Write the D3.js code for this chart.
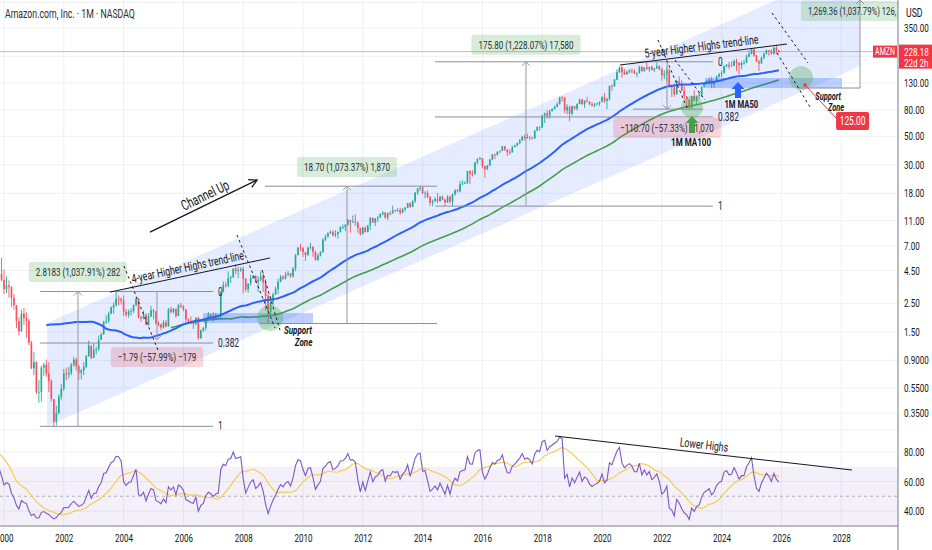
<!DOCTYPE html>
<html>
<head>
<meta charset="utf-8">
<script src="https://cdn.jsdelivr.net/npm/d3@7"></script>
<style>
  body { margin: 0; background: #fff; }
  text { font-family: Roboto, "Noto Sans", sans-serif; }
</style>
</head>
<body>
<svg id="chart" width="932" height="550"></svg>
<script>
// monthly AMZN candles from May 1997 (split adjusted), open = previous close
const startYear = 1997, startMonth = 4;

const closes = [
  0.086, 0.101, 0.125, 0.113, 0.179, 0.167, 0.238, 0.251,                        // 1997 May-Dec
  0.25, 0.33, 0.35, 0.40, 0.40, 0.83, 0.98, 0.78, 0.86, 0.83, 1.57, 2.68,          // 1998
  2.95, 3.10, 4.33, 4.62, 3.10, 3.13, 2.62, 3.05, 3.90, 3.53, 4.25, 3.81,          // 1999
  3.23, 3.44, 3.35, 2.76, 2.42, 1.82, 1.51, 2.08, 1.92, 1.83, 1.23, 0.78,          // 2000
  0.87, 0.51, 0.51, 0.79, 0.83, 0.71, 0.62, 0.45, 0.30, 0.35, 0.47, 0.54,          // 2001
  0.71, 0.70, 0.72, 0.83, 0.91, 0.81, 0.72, 0.75, 0.80, 0.97, 1.17, 0.94,          // 2002
  1.09, 1.10, 1.30, 1.43, 1.79, 1.82, 2.08, 2.32, 2.42, 2.72, 2.71, 2.63,          // 2003
  2.15, 2.04, 2.16, 2.18, 2.43, 2.72, 1.95, 1.91, 2.04, 1.71, 1.98, 2.21,          // 2004
  2.16, 1.75, 1.71, 1.62, 1.78, 1.65, 2.25, 2.14, 2.27, 1.99, 2.42, 2.36,          // 2005
  2.24, 1.87, 1.83, 1.76, 1.73, 1.93, 1.34, 1.54, 1.61, 1.90, 2.02, 1.97,          // 2006
  1.88, 1.96, 1.99, 3.07, 3.46, 3.42, 3.93, 4.00, 4.66, 4.46, 4.53, 4.63,          // 2007
  3.89, 3.22, 3.57, 3.93, 4.08, 3.67, 3.82, 4.04, 3.64, 2.86, 2.14, 2.56,          // 2008
  2.94, 3.24, 3.67, 4.03, 3.90, 4.18, 4.29, 4.06, 4.67, 5.94, 6.80, 6.73,          // 2009
  6.27, 5.92, 6.79, 6.86, 6.27, 5.46, 5.89, 6.24, 7.85, 8.26, 8.77, 9.00,          // 2010
  8.48, 8.66, 9.01, 9.79, 9.83, 10.22, 11.13, 10.76, 10.81, 10.68, 9.61, 8.66,     // 2011
  9.72, 8.98, 10.13, 11.60, 10.65, 11.42, 11.67, 12.41, 12.72, 11.64, 12.60, 12.54,// 2012
  13.28, 13.21, 13.32, 12.69, 13.46, 13.88, 15.06, 14.05, 15.63, 18.20, 19.68, 19.94, // 2013
  17.93, 18.11, 16.82, 15.21, 15.63, 16.24, 15.65, 16.95, 16.12, 15.27, 16.93, 15.52, // 2014
  17.73, 19.01, 18.61, 21.09, 21.46, 21.70, 26.81, 25.64, 25.59, 31.30, 33.24, 33.79, // 2015
  29.35, 27.63, 29.68, 32.98, 36.14, 35.78, 37.94, 38.46, 41.87, 39.49, 37.53, 37.49, // 2016
  41.17, 42.25, 44.33, 46.25, 49.73, 48.40, 49.39, 49.03, 48.07, 55.26, 58.84, 58.47, // 2017
  72.54, 75.62, 72.37, 78.31, 81.48, 84.99, 88.87, 100.64, 100.15, 79.90, 84.51, 75.10, // 2018
  85.94, 81.99, 89.04, 96.33, 88.75, 94.68, 93.34, 88.81, 86.80, 88.83, 90.04, 92.39,  // 2019
  100.44, 94.19, 97.49, 123.70, 122.12, 137.94, 158.23, 172.55, 157.44, 151.81, 158.40, 162.85, // 2020
  160.31, 154.65, 154.70, 173.37, 161.15, 172.01, 166.38, 173.54, 164.25, 168.62, 175.35, 166.72, // 2021
  149.57, 153.56, 163.00, 124.28, 120.21, 106.21, 134.95, 126.77, 113.00, 102.44, 96.54, 84.00,  // 2022
  103.13, 94.23, 103.29, 105.45, 120.58, 130.36, 133.68, 138.01, 127.12, 133.09, 146.09, 151.94, // 2023
  155.20, 176.76, 180.38, 175.00, 176.44, 193.25, 186.98, 178.50, 186.33, 186.40, 207.89, 219.39, // 2024
  237.68, 212.28, 190.26, 184.42, 205.01, 219.39, 234.11, 229.00, 219.57, 244.22, 233.22, 228.18  // 2025
];

const highs = [
  0.100, 0.105, 0.130, 0.130, 0.185, 0.220, 0.250, 0.280,
  0.28, 0.35, 0.38, 0.43, 0.46, 0.85, 1.08, 1.02, 0.90, 0.98, 1.87, 2.83,
  4.60, 3.60, 4.45, 5.53, 4.90, 3.50, 3.60, 3.30, 4.60, 4.30, 5.30, 5.65,
  4.58, 4.05, 3.78, 3.40, 2.95, 2.42, 1.95, 2.24, 2.30, 2.13, 1.90, 1.28,
  1.05, 0.89, 0.63, 0.82, 0.86, 0.91, 0.87, 0.64, 0.45, 0.40, 0.49, 0.59,
  0.77, 0.79, 0.80, 0.86, 0.96, 0.94, 0.83, 0.77, 0.87, 0.99, 1.28, 1.17,
  1.22, 1.15, 1.41, 1.47, 1.83, 2.02, 2.16, 2.37, 2.54, 3.09, 2.88, 2.78,
  2.88, 2.26, 2.24, 2.29, 2.45, 2.78, 2.73, 1.99, 2.20, 2.09, 2.10, 2.38,
  2.26, 2.19, 1.82, 1.74, 1.85, 1.86, 2.30, 2.35, 2.30, 2.27, 2.47, 2.52,
  2.42, 2.26, 1.90, 1.98, 1.78, 1.95, 1.96, 1.56, 1.64, 1.93, 2.14, 2.08,
  2.13, 2.09, 2.04, 3.10, 3.70, 3.65, 4.42, 4.09, 4.68, 5.05, 4.82, 4.80,
  4.82, 3.92, 3.58, 4.18, 4.19, 4.14, 4.07, 4.41, 4.40, 3.87, 2.96, 2.85,
  3.03, 3.37, 3.87, 4.16, 4.12, 4.38, 4.45, 4.31, 4.79, 6.05, 6.83, 7.26,
  6.87, 6.09, 6.90, 7.39, 7.01, 6.43, 6.10, 6.39, 8.00, 8.58, 8.95, 9.25,
  9.25, 9.30, 9.06, 9.98, 10.30, 10.35, 11.40, 11.15, 12.07, 12.35, 10.85, 9.70,
  9.84, 9.95, 10.14, 11.70, 11.60, 11.55, 11.90, 12.55, 13.08, 12.86, 12.70, 13.07,
  14.40, 13.49, 13.78, 13.88, 13.85, 14.05, 15.17, 15.24, 15.85, 18.42, 19.68, 20.40,
  20.38, 18.65, 18.93, 17.21, 16.06, 16.80, 18.06, 17.21, 17.29, 16.20, 17.35, 17.23,
  17.90, 19.37, 19.41, 22.42, 22.69, 22.35, 26.92, 27.10, 27.20, 31.55, 33.77, 34.64,
  33.87, 29.10, 29.76, 33.32, 36.28, 36.69, 38.00, 38.75, 42.04, 41.65, 39.35, 39.52,
  42.22, 43.00, 44.60, 47.65, 50.29, 51.39, 52.40, 49.98, 48.90, 55.90, 59.85, 59.76,
  73.63, 76.46, 79.70, 80.37, 82.88, 86.78, 91.80, 101.49, 102.53, 101.66, 88.81, 86.82,
  86.82, 84.38, 90.25, 98.12, 98.22, 95.50, 101.79, 93.48, 92.29, 90.90, 91.29, 93.52,
  102.79, 108.69, 100.13, 123.75, 126.27, 139.80, 166.63, 174.75, 177.61, 167.32, 162.59, 166.10,
  168.19, 166.50, 157.00, 177.70, 175.40, 172.50, 188.65, 173.64, 177.65, 171.20, 188.11, 178.62,
  171.40, 163.84, 170.83, 168.39, 126.22, 128.99, 137.65, 146.57, 136.49, 123.00, 101.80, 97.23,
  103.49, 114.00, 103.49, 110.86, 122.92, 131.49, 136.65, 143.63, 145.86, 134.48, 149.26, 155.63,
  161.73, 177.22, 182.73, 189.77, 191.70, 197.85, 201.20, 180.59, 191.86, 196.72, 215.90, 233.00,
  242.52, 242.00, 214.84, 197.00, 208.10, 223.80, 236.50, 235.00, 238.85, 250.50, 258.60, 235.30
];

const lows = [
  0.065, 0.080, 0.095, 0.105, 0.110, 0.150, 0.160, 0.210,
  0.20, 0.24, 0.31, 0.33, 0.37, 0.39, 0.73, 0.72, 0.67, 0.58, 0.78, 1.50,
  2.35, 2.60, 2.70, 4.00, 2.90, 2.60, 2.50, 2.35, 2.95, 3.20, 3.30, 3.70,
  2.95, 3.00, 2.77, 2.35, 2.23, 1.60, 1.40, 1.50, 1.70, 1.35, 1.18, 0.77,
  0.69, 0.49, 0.42, 0.43, 0.68, 0.67, 0.51, 0.43, 0.2755, 0.28, 0.34, 0.44,
  0.52, 0.63, 0.65, 0.69, 0.80, 0.75, 0.63, 0.64, 0.69, 0.78, 0.96, 0.92,
  0.94, 1.00, 1.06, 1.30, 1.42, 1.73, 1.76, 2.06, 2.07, 2.36, 2.42, 2.45,
  2.00, 1.96, 1.93, 2.00, 2.10, 2.38, 1.91, 1.80, 1.88, 1.68, 1.67, 1.96,
  1.88, 1.70, 1.65, 1.54, 1.59, 1.63, 1.66, 2.08, 2.08, 1.94, 1.99, 2.30,
  2.17, 1.79, 1.77, 1.73, 1.58, 1.69, 1.30, 1.32, 1.50, 1.54, 1.87, 1.90,
  1.81, 1.86, 1.85, 1.90, 3.07, 3.32, 3.34, 3.60, 3.95, 4.20, 3.93, 4.40,
  3.00, 3.08, 3.03, 3.43, 3.87, 3.62, 3.07, 3.73, 3.07, 2.20, 1.74, 2.00,
  2.40, 2.90, 2.96, 3.64, 3.81, 3.84, 4.07, 3.95, 3.98, 4.46, 5.92, 6.40,
  5.75, 5.35, 5.92, 6.55, 5.76, 5.37, 5.31, 5.80, 6.22, 7.60, 8.14, 8.70,
  8.34, 8.16, 8.00, 8.88, 9.45, 9.15, 10.10, 8.87, 10.58, 10.00, 8.86, 8.39,
  8.62, 8.93, 8.92, 9.34, 10.59, 9.99, 10.73, 11.60, 12.10, 11.37, 11.12, 12.13,
  12.55, 12.82, 12.86, 12.22, 12.60, 13.00, 13.79, 13.92, 14.06, 15.13, 17.47, 18.66,
  17.79, 16.50, 16.50, 14.30, 14.23, 15.34, 15.05, 15.44, 15.87, 14.30, 15.12, 14.93,
  14.26, 17.19, 18.25, 18.35, 20.88, 21.24, 21.20, 21.20, 24.28, 25.00, 30.26, 32.66,
  28.16, 23.72, 27.35, 29.20, 32.49, 33.21, 35.23, 37.00, 38.35, 38.38, 35.10, 36.01,
  37.31, 40.89, 41.83, 43.40, 46.41, 46.51, 47.84, 46.60, 47.06, 47.83, 54.80, 55.45,
  58.53, 63.30, 68.26, 68.71, 78.20, 80.69, 83.90, 88.43, 93.25, 75.77, 74.05, 65.35,
  73.05, 80.30, 79.35, 89.54, 88.21, 83.13, 91.83, 87.12, 85.08, 84.26, 87.05, 86.40,
  93.17, 90.57, 81.30, 94.51, 112.87, 121.46, 136.49, 155.55, 143.55, 150.02, 151.59, 153.79,
  154.75, 152.10, 144.05, 156.80, 158.80, 159.04, 165.35, 158.70, 162.10, 158.04, 169.47, 162.05,
  135.35, 139.50, 133.57, 121.62, 101.26, 101.43, 105.85, 126.74, 112.06, 97.66, 85.87, 81.69,
  81.43, 93.00, 88.12, 97.71, 101.15, 119.93, 125.92, 126.41, 118.35, 119.21, 133.71, 142.81,
  144.05, 155.62, 172.10, 166.32, 176.06, 178.14, 161.02, 151.61, 166.16, 180.25, 193.55, 206.32,
  216.71, 208.10, 189.81, 161.38, 184.89, 199.26, 217.57, 212.45, 216.71, 216.70, 218.00, 222.50
];

const yearTicks = [2000, 2002, 2004, 2006, 2008, 2010, 2012, 2014, 2016, 2018, 2020, 2022, 2024, 2026, 2028];
const priceTicks = [0.35, 0.55, 0.9, 1.5, 2.5, 4.5, 7, 11, 18, 30, 50, 80, 130, 210, 350, 550];
const rsiTicks = [40, 60, 80];
const lastPrice = 228.18;

// channel up (date, price) anchors
const channelDates = [2001.44, 2028.63];
const channelUpper = [1.76, 1120];
const channelLower = [0.276, 176];

// fib retracements: [start, end, high, low]
const fibs = [[2001.2, 2006.99, 3.09, 0.2755], [2014.415, 2023.71, 190.1, 14.3]];
const fibLevels = [0, 0.382, 1];

// ---------------------------------------------------------------
const SX = 0.7;              // screenshot text is horizontally narrow
const paneR = 898, mainB = 430, rsiB = 526;

const svg = d3.select("#chart");
const x = d3.scaleLinear().domain([2000, 2028]).range([4, 841.2]);
const y = d3.scaleLog().domain([0.35, 130]).range([413, 83]);
const r = d3.scaleLinear().domain([40, 80]).range([511, 452]);

svg.append("rect").attr("width", 932).attr("height", 550).attr("fill", "#fff");

const defs = svg.append("defs");
defs.append("clipPath").attr("id", "clipMain").append("rect")
    .attr("x", 0).attr("y", 0).attr("width", paneR).attr("height", mainB);
defs.append("clipPath").attr("id", "clipRsi").append("rect")
    .attr("x", 0).attr("y", mainB).attr("width", paneR).attr("height", rsiB - mainB);

function txt(g, px, py, s, o = {}) {
    let tr = `translate(${px},${py})`;
    if (o.rot) tr += ` rotate(${o.rot})`;
    tr += ` scale(${SX},1)`;
    const t = g.append("text")
        .attr("transform", tr)
        .attr("text-anchor", o.anchor || "middle")
        .attr("font-size", o.size || 11)
        .attr("fill", o.fill || "#131722")
        .text(s);
    if (o.mid) t.attr("dominant-baseline", "central");
    if (o.bold) t.attr("font-weight", "bold");
    if (o.italic) t.attr("font-style", "italic");
    return t;
}

// grid
const grid = svg.append("g");
grid.selectAll(".vg").data(yearTicks).enter().append("line")
    .attr("x1", d => x(d)).attr("x2", d => x(d))
    .attr("y1", 0).attr("y2", rsiB)
    .attr("stroke", "#eef0f4");
grid.selectAll(".hg").data(priceTicks).enter().append("line")
    .attr("x1", 0).attr("x2", paneR)
    .attr("y1", d => y(d)).attr("y2", d => y(d))
    .attr("stroke", "#eef0f4");
grid.selectAll(".rg").data(rsiTicks).enter().append("line")
    .attr("x1", 0).attr("x2", paneR)
    .attr("y1", d => r(d)).attr("y2", d => r(d))
    .attr("stroke", "#eef0f4");

const main = svg.append("g").attr("clip-path", "url(#clipMain)");

// channel band
main.append("path")
    .attr("d", d3.line()([
        [x(channelDates[0]), y(channelUpper[0])],
        [x(channelDates[1]), y(channelUpper[1])],
        [x(channelDates[1]), y(channelLower[1])],
        [x(channelDates[0]), y(channelLower[0])]
    ]))
    .attr("fill", "#2962ff").attr("fill-opacity", 0.12);

// last price line
main.append("line")
    .attr("x1", 0).attr("x2", paneR)
    .attr("y1", y(lastPrice)).attr("y2", y(lastPrice))
    .attr("stroke", "#f23645").attr("stroke-opacity", 0.45);

// candles
const bars = closes.map((c, i) => {
    const o = i > 0 ? closes[i - 1] : c;
    return {
        t: startYear + (startMonth + i) / 12,
        o, c,
        h: Math.max(highs[i], o, c),
        l: Math.min(lows[i], o, c)
    };
});
const bw = (x(2001) - x(2000)) / 12 * 0.66;
const up = "#22ab94", dn = "#f7525f";

const cg = main.append("g");
cg.selectAll(".wick").data(bars).enter().append("line")
    .attr("x1", d => x(d.t)).attr("x2", d => x(d.t))
    .attr("y1", d => y(d.h)).attr("y2", d => y(d.l))
    .attr("stroke", d => d.c >= d.o ? up : dn).attr("stroke-width", 0.9);
cg.selectAll(".body").data(bars).enter().append("rect")
    .attr("x", d => x(d.t) - bw / 2)
    .attr("width", bw)
    .attr("y", d => y(Math.max(d.o, d.c)))
    .attr("height", d => Math.max(0.8, Math.abs(y(d.o) - y(d.c))))
    .attr("fill", d => d.c >= d.o ? up : dn);

// moving averages
function sma(arr, n) {
    return arr.map((v, i) => {
        if (v == null || i < n - 1) return null;
        const w = arr.slice(i - n + 1, i + 1);
        if (w.some(q => q == null)) return null;
        return d3.mean(w);
    });
}
const ma50 = sma(closes, 50), ma100 = sma(closes, 100);
const priceLine = d3.line()
    .defined(d => d.v != null)
    .x(d => x(d.t)).y(d => y(d.v));
main.append("path")
    .attr("d", priceLine(bars.map((b, i) => ({ t: b.t, v: ma100[i] }))))
    .attr("fill", "none").attr("stroke", "#43a047").attr("stroke-width", 1.6);
main.append("path")
    .attr("d", priceLine(bars.map((b, i) => ({ t: b.t, v: ma50[i] }))))
    .attr("fill", "none").attr("stroke", "#2962ff").attr("stroke-width", 2);

// ---------------- drawings ----------------
const dr = main.append("g");

// support zones and circles
[[2006.656, 2010.334, 1.757, 2.10], [2023.445, 2028.027, 118.8, 142.2]].forEach(s => {
    dr.append("rect")
        .attr("x", x(s[0])).attr("width", x(s[1]) - x(s[0]))
        .attr("y", y(s[3])).attr("height", y(s[2]) - y(s[3]))
        .attr("fill", "#2962ff").attr("fill-opacity", 0.3);
});
[[2008.896, 1.92, 13], [2023.01, 84.5, 11], [2026.656, 142.2, 12]].forEach(c => {
    dr.append("circle").attr("cx", x(c[0])).attr("cy", y(c[1])).attr("r", c[2])
        .attr("fill", "#4caf50").attr("fill-opacity", 0.35);
});

// fib levels
fibs.forEach(f => {
    const lh = Math.log(f[2]), ll = Math.log(f[3]);
    fibLevels.forEach(lv => {
        const p = Math.exp(lh - lv * (lh - ll));
        dr.append("line")
            .attr("x1", x(f[0])).attr("x2", x(f[1]))
            .attr("y1", y(p)).attr("y2", y(p))
            .attr("stroke", "#8c8f98").attr("stroke-width", 1);
        txt(dr, x(f[1]) + 5, y(p), String(lv), { anchor: "start", mid: true, size: 12, fill: "#2a2e39" });
    });
});

// extra measure base lines
[[2008.729, 2014.482, 20.44], [2008.562, 2014.482, 1.742], [2021.037, 2023.378, 81.4], [2026.555, 2028.629, 118.8]]
    .forEach(l => {
        dr.append("line")
            .attr("x1", x(l[0])).attr("x2", x(l[1]))
            .attr("y1", y(l[2])).attr("y2", y(l[2]))
            .attr("stroke", "#8c8f98");
    });

// measure verticals with arrow heads
function measure(t, p0, p1) {
    const X = x(t), Y0 = y(p0), Y1 = Math.max(y(p1), 0);
    dr.append("line").attr("x1", X).attr("x2", X).attr("y1", Y0).attr("y2", Y1)
        .attr("stroke", "#9598a1");
    const s = Y1 < Y0 ? 1 : -1;
    dr.append("path")
        .attr("d", `M${X - 4},${Y1 + 4 * s}L${X},${Y1}L${X + 4},${Y1 + 4 * s}`)
        .attr("fill", "none").attr("stroke", "#9598a1");
}
measure(2002.475, 0.2755, 3.09);
measure(2005.117, 3.09, 1.30);
measure(2011.472, 1.742, 20.44);
measure(2017.458, 14.3, 190.1);
measure(2022.174, 190.1, 81.4);
measure(2028.629, 118.8, 600);

// labels with background
function badge(t, p, s, fill, atStart, size) {
    const cx = x(t), cy = y(p);
    const g = dr.append("g");
    const tx = txt(g, cx, cy, s, { mid: true, fill: "#2a2e39", size: size || 11.5, anchor: atStart ? "start" : "middle" });
    const w = tx.node().getComputedTextLength() * SX + 14;
    const bx = atStart ? cx - 7 : cx - w / 2;
    g.insert("rect", () => tx.node())
        .attr("x", bx).attr("y", cy - 10).attr("width", w).attr("height", 20)
        .attr("rx", 3).attr("fill", fill);
}
const greenBg = "rgba(76,175,80,0.22)", pinkBg = "rgba(242,54,69,0.2)";
badge(2002.475, 4.38, "2.8183 (1,037.91%) 282", greenBg);
badge(2005.117, 0.955, "\u22121.79 (\u221257.99%) \u2212179", pinkBg);
badge(2011.472, 28.8, "18.70 (1,073.37%) 1,870", greenBg);
badge(2017.458, 258, "175.80 (1,228.07%) 17,580", greenBg);
badge(2022.174, 58, "\u2212110.70 (\u221257.33%) \u22121,070", pinkBg);
badge(2026.89, 473, "1,269.36 (1,037.79%) 126,", greenBg, true, 11);

// trend lines with captions
function trend(t0, p0, t1, p1, s, tc, off) {
    const a = [x(t0), y(p0)], b = [x(t1), y(p1)];
    dr.append("line").attr("x1", a[0]).attr("y1", a[1]).attr("x2", b[0]).attr("y2", b[1])
        .attr("stroke", "#131722").attr("stroke-width", 1);
    const ang = Math.atan2(b[1] - a[1], b[0] - a[0]);
    const k = (x(tc) - a[0]) / (b[0] - a[0]);
    const px = x(tc), py = a[1] + k * (b[1] - a[1]);
    txt(dr, px + off * Math.sin(ang), py - off * Math.cos(ang), s,
        { rot: ang * 180 / Math.PI, size: 12.5 });
}
trend(2003.545, 3.06, 2008.896, 5.64, "4-year Higher Highs trend-line", 2006.2, 4);
trend(2020.602, 179.5, 2026.187, 261.6, "5-year Higher Highs trend-line", 2023.36, 4);

// channel up arrow
{
    const a = [x(2004.883), y(8.98)], b = [x(2008.462), y(22.8)];
    dr.append("line").attr("x1", a[0]).attr("y1", a[1]).attr("x2", b[0]).attr("y2", b[1])
        .attr("stroke", "#131722").attr("stroke-width", 1.3);
    const ang = Math.atan2(b[1] - a[1], b[0] - a[0]);
    const hl = 9;
    const p1 = [b[0] - hl * Math.cos(ang - 0.5), b[1] - hl * Math.sin(ang - 0.5)];
    const p2 = [b[0] - hl * Math.cos(ang + 0.5), b[1] - hl * Math.sin(ang + 0.5)];
    dr.append("path").attr("d", `M${p1}L${b}L${p2}`)
        .attr("fill", "none").attr("stroke", "#131722").attr("stroke-width", 1.3);
    txt(dr, x(2006.722), y(17.44), "Channel Up", { rot: ang * 180 / Math.PI, size: 14.5, mid: true });
}

// dashed wedge lines
[[2004.013, 4.88, 2005.15, 1.082], [2007.793, 8.51, 2009.064, 1.606], [2008.629, 4.54, 2009.231, 1.55],
 [2021.873, 281, 2022.876, 80.1], [2022.441, 196.3, 2023.445, 95.8],
 [2025.686, 456, 2026.89, 186], [2025.853, 222.6, 2026.957, 84.5]].forEach(d => {
    dr.append("line")
        .attr("x1", x(d[0])).attr("y1", y(d[1])).attr("x2", x(d[2])).attr("y2", y(d[3]))
        .attr("stroke", "#131722").attr("stroke-width", 1).attr("stroke-dasharray", "2.5,3");
});

// support zone captions
txt(dr, x(2009.83), y(1.44), "Support", { bold: true, italic: true, size: 11.5 });
txt(dr, x(2010.02), y(1.17), "Zone", { bold: true, italic: true, size: 11.5 });
txt(dr, x(2027.56), y(96.5), "Support", { bold: true, italic: true, size: 10.5 });
txt(dr, x(2027.83), y(78.0), "Zone", { bold: true, italic: true, size: 10.5 });

// block arrows for MAs
function blockArrow(t, pBase, pTip, col) {
    const X = x(t), b = y(pBase), tp = y(pTip);
    const hh = 7;
    dr.append("path")
        .attr("d", `M${X - 3},${b}L${X - 3},${tp + hh}L${X - 6.5},${tp + hh}L${X},${tp}` +
                   `L${X + 6.5},${tp + hh}L${X + 3},${tp + hh}L${X + 3},${b}Z`)
        .attr("fill", col);
}
blockArrow(2023.01, 53.0, 71.9, "#43a047");
blockArrow(2024.549, 99.3, 132.4, "#2962ff");
txt(dr, x(2022.98), y(45.1), "1M MA100", { bold: true, size: 11.5, mid: true });
txt(dr, x(2024.66), y(89.2), "1M MA50", { bold: true, size: 11, mid: true });

// target pointer
{
    const a = [x(2026.79), y(125.4)], b = [x(2027.89), y(67.0)];
    dr.append("line").attr("x1", a[0]).attr("y1", a[1]).attr("x2", b[0]).attr("y2", b[1])
        .attr("stroke", "#f23645").attr("stroke-width", 1);
    dr.append("circle").attr("cx", a[0]).attr("cy", a[1]).attr("r", 1.8).attr("fill", "#f23645");
    const cx = x(2028.38), cy = y(65.8);
    dr.append("rect").attr("x", cx - 16.5).attr("y", cy - 9).attr("width", 33).attr("height", 18)
        .attr("rx", 2).attr("fill", "#f23645");
    txt(dr, cx, cy, "125.00", { mid: true, fill: "#fff", size: 12 });
}

// pane separator
svg.append("line").attr("x1", 0).attr("x2", paneR).attr("y1", mainB).attr("y2", mainB)
    .attr("stroke", "#eceef3");

// ---------------- RSI ----------------
function rsi(arr, n) {
    const out = arr.map(() => null);
    let ag = 0, al = 0;
    for (let i = 1; i < arr.length; i++) {
        const d = arr[i] - arr[i - 1];
        const g = Math.max(d, 0), l = Math.max(-d, 0);
        if (i <= n) {
            ag += g / n; al += l / n;
            if (i === n) out[i] = 100 - 100 / (1 + ag / al);
        } else {
            ag = (ag * (n - 1) + g) / n;
            al = (al * (n - 1) + l) / n;
            out[i] = al === 0 ? 100 : 100 - 100 / (1 + ag / al);
        }
    }
    return out;
}
const rsiVals = rsi(closes, 14);
const rsiMa = sma(rsiVals, 14);

const rp = svg.append("g").attr("clip-path", "url(#clipRsi)");
rp.append("rect").attr("x", 0).attr("width", paneR)
    .attr("y", r(70)).attr("height", r(30) - r(70))
    .attr("fill", "#7e57c2").attr("fill-opacity", 0.09);
rp.append("line").attr("x1", 0).attr("x2", paneR).attr("y1", r(50)).attr("y2", r(50))
    .attr("stroke", "#9598a1").attr("stroke-dasharray", "3,3").attr("stroke-opacity", 0.7);

const rsiLine = d3.line().defined(d => d.v != null).x(d => x(d.t)).y(d => r(d.v));
rp.append("path")
    .attr("d", rsiLine(bars.map((b, i) => ({ t: b.t, v: rsiMa[i] }))))
    .attr("fill", "none").attr("stroke", "#f5cd4f").attr("stroke-width", 1.2);
rp.append("path")
    .attr("d", rsiLine(bars.map((b, i) => ({ t: b.t, v: rsiVals[i] }))))
    .attr("fill", "none").attr("stroke", "#7e57c2").attr("stroke-width", 1.1);

// lower highs line
{
    const a = [x(2018.43), r(90.8)], b = [x(2028.36), r(67.8)];
    rp.append("line").attr("x1", a[0]).attr("y1", a[1]).attr("x2", b[0]).attr("y2", b[1])
        .attr("stroke", "#131722").attr("stroke-width", 1.1);
    const ang = Math.atan2(b[1] - a[1], b[0] - a[0]) * 180 / Math.PI;
    txt(rp, x(2023.41), r(84.7), "Lower Highs", { rot: ang, size: 12.5, mid: true });
}

// ---------------- axes ----------------
const axB = svg.append("g").attr("transform", `translate(0,${rsiB})`)
    .call(d3.axisBottom(x).tickValues(yearTicks).tickFormat(d3.format("d")).tickSize(0).tickPadding(8));
axB.select(".domain").remove();
axB.selectAll("text")
    .attr("transform", `scale(${SX},1)`)
    .attr("font-size", 11.5).attr("fill", "#131722")
    .attr("font-family", "Roboto, sans-serif");
svg.append("line").attr("x1", 0).attr("x2", paneR).attr("y1", rsiB).attr("y2", rsiB)
    .attr("stroke", "#787b86");

// price scale labels (those under the header and the last-price tag stay hidden)
const fmtP = v => v >= 1 ? d3.format(".2f")(v) : d3.format(".4f")(v);
const axR = svg.append("g").attr("transform", `translate(${paneR},0)`);
priceTicks
    .filter(v => y(v) > 20 && Math.abs(y(v) - (y(lastPrice) + 5)) > 16)
    .forEach(v => txt(axR, 6, y(v), fmtP(v), { anchor: "start", mid: true, size: 11.5 }));
rsiTicks.forEach(v => txt(axR, 6, r(v), d3.format(".2f")(v), { anchor: "start", mid: true, size: 11.5 }));

svg.append("line").attr("x1", paneR).attr("x2", paneR).attr("y1", 0).attr("y2", 550)
    .attr("stroke", "#787b86");

// USD header
svg.append("rect").attr("x", paneR + 1).attr("y", 0).attr("width", 34).attr("height", 24).attr("fill", "#fff");
txt(svg, paneR + 8, 13, "USD", { anchor: "start", mid: true, size: 12.5 });

// last price tags
{
    const py = y(lastPrice);
    svg.append("rect").attr("x", paneR - 25).attr("y", py - 6).attr("width", 24).attr("height", 12)
        .attr("fill", "#f23645");
    txt(svg, paneR - 13, py, "AMZN", { mid: true, fill: "#fff", size: 10 });
    svg.append("rect").attr("x", paneR + 1).attr("y", py - 7).attr("width", 34).attr("height", 24)
        .attr("fill", "#f23645");
    txt(svg, paneR + 6, py, "228.18", { anchor: "start", mid: true, fill: "#fff", size: 11.5 });
    txt(svg, paneR + 6, py + 11, "22d 2h", { anchor: "start", mid: true, fill: "#fff", size: 11.5 });
}

// title
txt(svg, 5, 14, "Amazon.com, Inc. \u00b7 1M \u00b7 NASDAQ", { anchor: "start", mid: true, size: 12.5, fill: "#2a2e39" });
</script>
</body>
</html>
